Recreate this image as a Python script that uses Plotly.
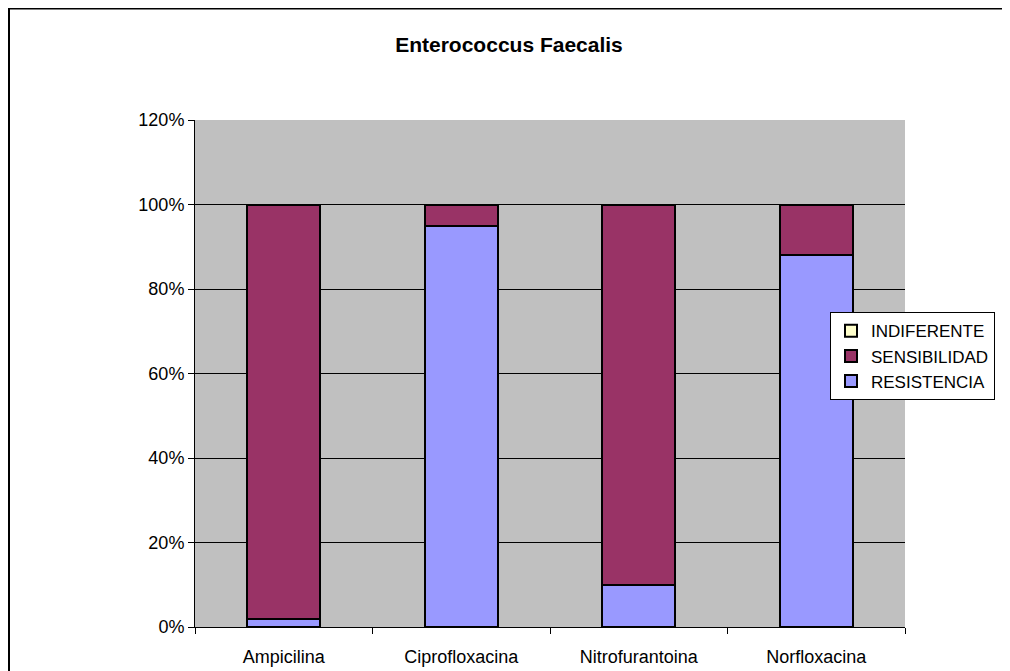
import plotly.graph_objects as go

# data
categories = ["Ampicilina", "Ciprofloxacina", "Nitrofurantoina", "Norfloxacina"]
resistencia = [0.02, 0.95, 0.10, 0.88]
sensibilidad = [0.98, 0.05, 0.90, 0.12]
indiferente = [0, 0, 0, 0]
y_ticks = [0, 0.2, 0.4, 0.6, 0.8, 1.0, 1.2]
y_labels = ["0%", "20%", "40%", "60%", "80%", "100%", "120%"]

series = [
    ("RESISTENCIA", resistencia, "#9999FF"),
    ("SENSIBILIDAD", sensibilidad, "#993366"),
    ("INDIFERENTE", indiferente, "#FFFFCC"),
]

fig = go.Figure()
for name, vals, color in series:
    fig.add_trace(go.Bar(
        x=categories, y=vals, name=name,
        marker=dict(color=color, line=dict(color="black", width=2)),
        width=0.41,
    ))

# page has an 8px body offset; plot area on page: x 195..905, y 120..629
OFF = 8
L, T = 195 - OFF, 120 - OFF
R, B = 1010 - (905 - OFF), 671 - (629 - OFF)
pw, ph = 1010 - L - R, 671 - T - B


def px_x(x):
    return (x - OFF - L) / pw


def px_y(y):
    return (629 - y) / ph


fig.update_layout(
    width=1010, height=671,
    barmode="stack",
    margin=dict(l=L, r=R, t=T, b=B),
    paper_bgcolor="white",
    plot_bgcolor="#C0C0C0",
    font=dict(family="Liberation Sans, Arial", size=18, color="black"),
    title=dict(text="<b>Enterococcus Faecalis</b>", x=(509 - OFF) / 1010, xanchor="center",
               y=1 - (45 - OFF) / 671, yanchor="middle", font=dict(size=21)),
    legend=dict(
        x=px_x(830), xanchor="left",
        y=px_y(313), yanchor="top",
        traceorder="reversed",
        bgcolor="white", bordercolor="black", borderwidth=1,
        font=dict(size=17), itemwidth=30, tracegroupgap=0,
    ),
    showlegend=True,
)

fig.update_xaxes(
    showline=True, linecolor="black", linewidth=1,
    ticks="outside", tickson="boundaries", ticklen=6, tickcolor="black",
    ticklabelstandoff=13,
    showgrid=False,
)
fig.update_yaxes(
    range=[0, 1.2], tickvals=y_ticks, ticktext=y_labels,
    showline=True, linecolor="black", linewidth=1,
    ticks="outside", ticklen=6, tickcolor="black",
    showgrid=True, gridcolor="black", gridwidth=1,
    zeroline=False,
)

# outer chart border
fig.add_shape(type="rect", xref="paper", yref="paper",
              x0=px_x(9), x1=px_x(1030),
              y0=px_y(700), y1=px_y(8),
              line=dict(color="black", width=2), fillcolor="rgba(0,0,0,0)",
              layer="below")

fig.write_html("out.html")
